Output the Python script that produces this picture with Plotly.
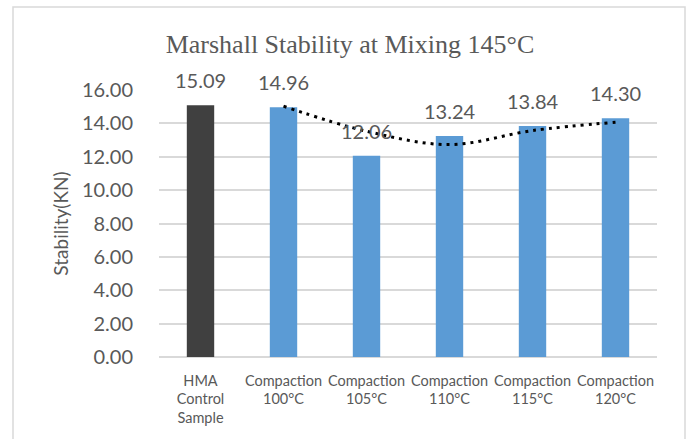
import plotly.graph_objects as go

categories = ["HMA<br>Control<br>Sample", "Compaction<br>100°C", "Compaction<br>105°C",
              "Compaction<br>110°C", "Compaction<br>115°C", "Compaction<br>120°C"]
stability = [15.09, 14.96, 12.06, 13.24, 13.84, 14.30]
bar_colors = ["#404040", "#5B9BD5", "#5B9BD5", "#5B9BD5", "#5B9BD5", "#5B9BD5"]
# dotted trendline (over the compaction series)
trend_x = categories[1:]
trend_y = [15.03, 13.53, 12.73, 13.57, 14.07]
ytick_vals = [0, 2, 4, 6, 8, 10, 12, 14, 16]
ytick_text = ["0.00", "2.00", "4.00", "6.00", "8.00", "10.00", "12.00", "14.00", "16.00"]

TXT = "#595959"
FONT = "Lato, 'Open Sans', sans-serif"

W, H = 691, 439
L, R, T, B = 159, 34, 90, 82
PW, PH = W - L - R, H - T - B

fig = go.Figure()
fig.add_trace(go.Bar(x=categories, y=stability, marker_color=bar_colors,
                     marker_line_width=0, width=0.33, showlegend=False,
                     hoverinfo="x+y"))
fig.add_trace(go.Scatter(x=trend_x, y=trend_y, mode="lines",
                         line=dict(color="black", width=3, dash="3px,5px", shape="spline",
                                   smoothing=1.0),
                         showlegend=False, hoverinfo="skip"))

for c, v in zip(categories, stability):
    fig.add_annotation(x=c, y=v, text=f"{v:.2f}", showarrow=False, yshift=25,
                       yanchor="middle", font=dict(family=FONT, size=20, color=TXT))

fig.add_shape(type="rect", xref="paper", yref="paper",
              x0=(13 - L) / PW, x1=(685 - L) / PW, y0=-0.5, y1=(H - B - 7) / PH,
              line=dict(color="#D9D9D9", width=1.5), layer="below")

fig.update_layout(
    width=W, height=H,
    margin=dict(l=L, r=R, t=T, b=B, pad=0),
    paper_bgcolor="white", plot_bgcolor="white",
    title=dict(text="Marshall Stability at Mixing 145°C", x=350 / W, xref="container",
               xanchor="center", y=1 - 44 / H, yref="container", yanchor="middle",
               font=dict(family="'Liberation Serif', 'Times New Roman', serif",
                         size=26, color=TXT)),
    bargap=0.64,
    font=dict(family=FONT, color=TXT),
)
fig.update_xaxes(showgrid=False, showline=False, ticks="", ticklabelstandoff=13,
                 tickfont=dict(family=FONT, size=14.5, color=TXT))
fig.update_yaxes(range=[0, 16], tickvals=ytick_vals, ticktext=ytick_text,
                 showgrid=True, gridcolor="#D9D9D9", gridwidth=1.5,
                 zeroline=True, zerolinecolor="#D9D9D9", zerolinewidth=1.5,
                 showline=False, ticks="", ticklabelstandoff=25,
                 tickfont=dict(family=FONT, size=20, color=TXT),
                 title=dict(text="Stability(KN)", standoff=8,
                            font=dict(family=FONT, size=19, color=TXT)))

fig.write_html("out.html", config={"displayModeBar": False},
               post_script="document.body.style.margin='0';document.body.style.overflow='hidden';")
